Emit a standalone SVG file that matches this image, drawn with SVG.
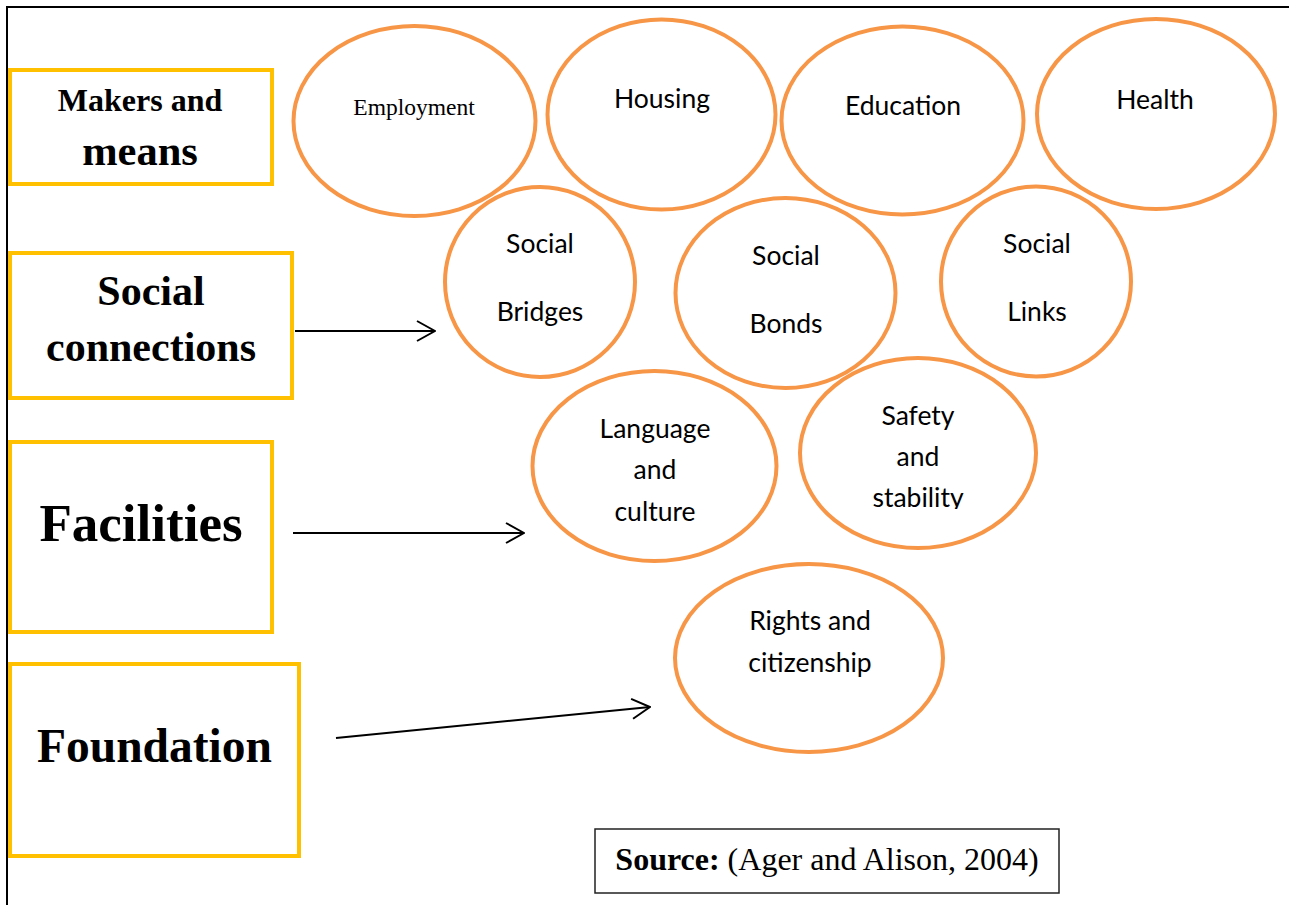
<svg xmlns="http://www.w3.org/2000/svg" width="1289" height="905" viewBox="0 0 1289 905">
  <style>
    .frame { stroke: #000; stroke-width: 2; fill: none; }
    .level { fill: #fff; stroke: #FFC000; stroke-width: 4; }
    .lvl { font-family: "Liberation Serif", "Times New Roman", serif; font-weight: bold; fill: #000; text-anchor: middle; }
    .bubble { fill: #fff; stroke: #F79646; stroke-width: 4; }
    .cal { font-family: Lato, "Liberation Sans", sans-serif; font-size: 26.5px; fill: #000; text-anchor: middle; }
    .tnr { font-family: "Liberation Serif", "Times New Roman", serif; fill: #000; text-anchor: middle; }
    .conn { stroke: #000; stroke-width: 2; fill: none; marker-end: url(#chev); }
    .src { fill: #fff; stroke: #222; stroke-width: 1.5; }
  </style>
  <defs>
    <marker id="chev" markerUnits="userSpaceOnUse" viewBox="0 0 20 22" refX="19" refY="11" markerWidth="20" markerHeight="22" orient="auto">
      <path d="M1,1 L19,11 L1,21" fill="none" stroke="#000" stroke-width="2"/>
    </marker>
    <clipPath id="safetyClip">
      <rect x="800" y="380" width="240" height="129"/>
    </clipPath>
  </defs>

  <rect width="1289" height="905" fill="#fff"/>
  <!-- page frame: top and left rules -->
  <path class="frame" d="M7,905 V7 H1289"/>

  <!-- level labels -->
  <g id="makers-and-means">
    <rect class="level" x="10" y="70" width="262" height="114"/>
    <text class="lvl" x="140" y="111" font-size="32">Makers and</text>
    <text class="lvl" x="140" y="165" font-size="42.5">means</text>
  </g>
  <g id="social-connections">
    <rect class="level" x="10" y="253" width="282" height="145"/>
    <text class="lvl" x="151" y="305" font-size="42">Social</text>
    <text class="lvl" x="151" y="361" font-size="42">connections</text>
  </g>
  <g id="facilities">
    <rect class="level" x="10" y="442" width="262" height="190"/>
    <text class="lvl" x="141" y="541" font-size="53">Facilities</text>
  </g>
  <g id="foundation">
    <rect class="level" x="10" y="664" width="289" height="192"/>
    <text class="lvl" x="154.5" y="762" font-size="47.5">Foundation</text>
  </g>

  <!-- top row: markers and means -->
  <g id="employment">
    <ellipse class="bubble" cx="414.5" cy="121" rx="121" ry="95"/>
    <text class="tnr" x="414" y="115" font-size="23.5">Employment</text>
  </g>
  <g id="housing">
    <ellipse class="bubble" cx="661.5" cy="114.5" rx="114" ry="95"/>
    <text class="cal" x="662" y="108">Housing</text>
  </g>
  <g id="education">
    <ellipse class="bubble" cx="902.5" cy="120.5" rx="121" ry="94"/>
    <text class="cal" x="903" y="115">Education</text>
  </g>
  <g id="health">
    <ellipse class="bubble" cx="1156" cy="114" rx="119" ry="95"/>
    <text class="cal" x="1155" y="109">Health</text>
  </g>

  <!-- second row: social connections -->
  <g id="social-bridges">
    <ellipse class="bubble" cx="540" cy="282" rx="95" ry="95"/>
    <text class="cal" x="540" y="253">Social</text>
    <text class="cal" x="540" y="321">Bridges</text>
  </g>
  <g id="social-bonds">
    <ellipse class="bubble" cx="785.5" cy="293" rx="110" ry="95"/>
    <text class="cal" x="786" y="265">Social</text>
    <text class="cal" x="786" y="333">Bonds</text>
  </g>
  <g id="social-links">
    <ellipse class="bubble" cx="1036" cy="281.5" rx="95" ry="95"/>
    <text class="cal" x="1037" y="253">Social</text>
    <text class="cal" x="1037" y="321">Links</text>
  </g>

  <!-- third row: facilitators -->
  <g id="language-and-culture">
    <ellipse class="bubble" cx="654.5" cy="466" rx="122" ry="95"/>
    <text class="cal" x="655" y="438">Language</text>
    <text class="cal" x="655" y="479">and</text>
    <text class="cal" x="655" y="521">culture</text>
  </g>
  <g id="safety-and-stability">
    <ellipse class="bubble" cx="918" cy="453" rx="118" ry="95"/>
    <g clip-path="url(#safetyClip)">
      <text class="cal" x="918" y="425">Safety</text>
      <text class="cal" x="918" y="466">and</text>
      <text class="cal" x="918" y="507">stability</text>
    </g>
  </g>

  <!-- base: foundation -->
  <g id="rights-and-citizenship">
    <ellipse class="bubble" cx="809" cy="658" rx="134" ry="94"/>
    <text class="cal" x="810" y="630">Rights and</text>
    <text class="cal" x="810" y="672">citizenship</text>
  </g>

  <!-- connectors -->
  <g id="connectors">
    <line class="conn" x1="295" y1="331" x2="435" y2="331"/>
    <line class="conn" x1="293" y1="533" x2="524" y2="533"/>
    <line class="conn" x1="336" y1="738" x2="650" y2="707"/>
  </g>

  <!-- citation -->
  <g id="source">
    <rect class="src" x="595" y="829" width="464" height="64"/>
    <text class="tnr" x="827" y="870" font-size="32"><tspan font-weight="bold">Source:</tspan> (Ager and Alison, 2004)</text>
  </g>
</svg>
